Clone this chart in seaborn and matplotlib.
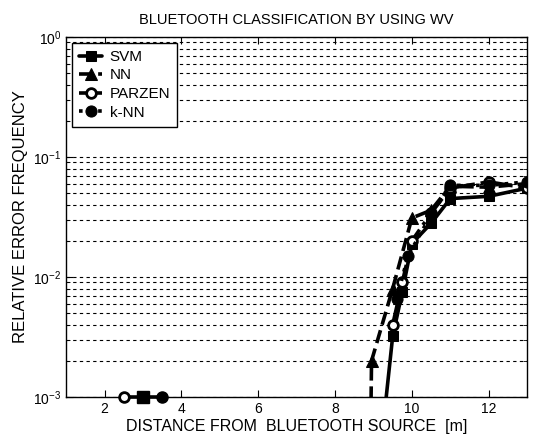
import numpy as np
import pandas as pd
import seaborn as sns
import matplotlib
matplotlib.use("Agg")
import matplotlib.pyplot as plt
from matplotlib.ticker import LogLocator, NullFormatter

# values (points below 1e-3 run off the bottom edge)
svm_x = [9.0, 9.5, 9.75, 10.0, 10.5, 11.0, 12.0, 13.0]
svm_y = [1e-4, 0.0032, 0.0075, 0.019, 0.028, 0.045, 0.047, 0.055]

nn_x = [8.9, 8.95, 9.5, 10.0, 10.5, 11.0, 12.0, 13.0]
nn_y = [1e-4, 0.002, 0.008, 0.031, 0.036, 0.057, 0.056, 0.060]

parzen_x = [9.5, 9.75, 10.0, 10.5, 11.0, 12.0, 13.0]
parzen_y = [0.004, 0.009, 0.020, 0.034, 0.055, 0.062, 0.055]

knn_x = [9.6, 9.9, 10.5, 11.0, 12.0, 13.0]
knn_y = [0.0065, 0.015, 0.033, 0.058, 0.058, 0.062]

# lone points sitting on the 10^-3 line
low_x = [2.5, 3.0, 3.5]
low_y = [1e-3, 1e-3, 1e-3]

sns.set_style("ticks")
plt.rcParams['font.family'] = ['Liberation Sans', 'DejaVu Sans']
plt.rcParams['text.color'] = 'black'
plt.rcParams['axes.labelcolor'] = 'black'
plt.rcParams['xtick.color'] = 'black'
plt.rcParams['ytick.color'] = 'black'

fig = plt.figure(figsize=(5.33, 4.37), dpi=100)
ax = fig.add_axes([0.124, 0.0915, 0.865, 0.824])
ax.set_yscale("log")

lw = 2.6
sns.lineplot(x=svm_x, y=svm_y, ax=ax, color="black", lw=lw, linestyle="-",
             marker="s", markersize=7, markeredgecolor="black", label="SVM")
sns.lineplot(x=nn_x, y=nn_y, ax=ax, color="black", lw=lw, linestyle="--",
             marker="^", markersize=8, markeredgecolor="black", label="NN")
sns.lineplot(x=parzen_x, y=parzen_y, ax=ax, color="black", lw=lw, linestyle="-.",
             marker="o", markersize=7, markerfacecolor="white", markeredgecolor="black",
             markeredgewidth=2, label="PARZEN")
sns.lineplot(x=knn_x, y=knn_y, ax=ax, color="black", lw=lw, linestyle=":",
             marker="o", markersize=8, markeredgecolor="black", label="k-NN")

# bottom cluster
ax.plot(low_x, low_y, color="black", lw=lw, clip_on=False, zorder=5)
ax.plot(low_x[0], low_y[0], marker="o", ms=7, mfc="white", mec="black", mew=2, clip_on=False, zorder=6)
ax.plot(low_x[1], low_y[1], marker="s", ms=8, color="black", clip_on=False, zorder=6)
ax.plot(low_x[2], low_y[2], marker="o", ms=8, color="black", clip_on=False, zorder=6)

ax.set_xlim(1, 13)
ax.set_ylim(1e-3, 1)
ax.set_xticks([2, 4, 6, 8, 10, 12])
ax.yaxis.set_major_locator(LogLocator(base=10, numticks=10))
ax.yaxis.set_minor_locator(LogLocator(base=10, subs=np.arange(2, 10), numticks=20))
ax.yaxis.set_minor_formatter(NullFormatter())
ax.tick_params(axis="both", which="both", direction="in", top=True, right=True,
               labelsize=10, color="black")
ax.tick_params(which="major", length=5)
ax.tick_params(which="minor", length=3)
ax.grid(axis="y", which="both", color="black", linestyle=(0, (3, 3)), lw=0.8)
for s in ax.spines.values():
    s.set_color("black")
    s.set_linewidth(1.0)

ax.set_title("BLUETOOTH CLASSIFICATION BY USING WV", fontsize=10.5, pad=9)
ax.set_xlabel("DISTANCE FROM  BLUETOOTH SOURCE  [m]", fontsize=11.5, labelpad=2)
ax.set_ylabel("RELATIVE ERROR FREQUENCY", fontsize=12, labelpad=4)

leg = ax.legend(loc="upper left", fontsize=11, frameon=True, fancybox=False,
                handlelength=1.5, borderaxespad=0.4, labelspacing=0.3,
                borderpad=0.45, handletextpad=0.5)
leg.get_frame().set_edgecolor("black")
leg.get_frame().set_linewidth(1.0)
leg.get_frame().set_alpha(1)

fig.savefig("out.png", dpi=100)
